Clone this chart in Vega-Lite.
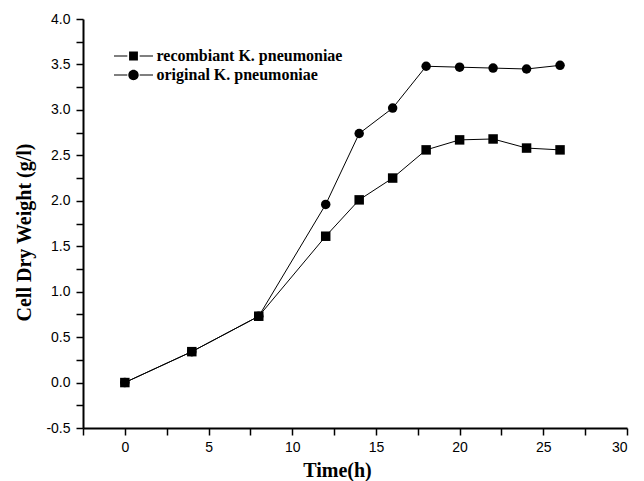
{
  "$schema": "https://vega.github.io/schema/vega-lite/v6.json",
  "width": 544,
  "height": 409,
  "autosize": {"type": "none"},
  "padding": {"left": 83, "top": 19, "right": 17, "bottom": 53},
  "background": "white",
  "config": {"view": {"stroke": null}},
  "data": {
    "values": [
      {"time": 0, "cdw": 0.0, "series": "recombiant"},
      {"time": 4, "cdw": 0.34, "series": "recombiant"},
      {"time": 8, "cdw": 0.73, "series": "recombiant"},
      {"time": 12, "cdw": 1.61, "series": "recombiant"},
      {"time": 14, "cdw": 2.01, "series": "recombiant"},
      {"time": 16, "cdw": 2.25, "series": "recombiant"},
      {"time": 18, "cdw": 2.56, "series": "recombiant"},
      {"time": 20, "cdw": 2.67, "series": "recombiant"},
      {"time": 22, "cdw": 2.68, "series": "recombiant"},
      {"time": 24, "cdw": 2.58, "series": "recombiant"},
      {"time": 26, "cdw": 2.56, "series": "recombiant"},
      {"time": 0, "cdw": 0.0, "series": "original"},
      {"time": 4, "cdw": 0.34, "series": "original"},
      {"time": 8, "cdw": 0.73, "series": "original"},
      {"time": 12, "cdw": 1.96, "series": "original"},
      {"time": 14, "cdw": 2.74, "series": "original"},
      {"time": 16, "cdw": 3.02, "series": "original"},
      {"time": 18, "cdw": 3.48, "series": "original"},
      {"time": 20, "cdw": 3.47, "series": "original"},
      {"time": 22, "cdw": 3.46, "series": "original"},
      {"time": 24, "cdw": 3.45, "series": "original"},
      {"time": 26, "cdw": 3.49, "series": "original"}
    ]
  },
  "encoding": {
    "x": {
      "field": "time", "type": "quantitative",
      "scale": {"domain": [-2.5, 30], "nice": false, "zero": false},
      "axis": {
        "title": "Time(h)",
        "values": [-2.5, 0, 2.5, 5, 7.5, 10, 12.5, 15, 17.5, 20, 22.5, 25, 27.5, 30],
        "labelExpr": "datum.value % 5 === 0 ? format(datum.value, 'd') : ''",
        "grid": false,
        "domainColor": "black", "domainWidth": 2,
        "tickColor": "black", "tickWidth": 1.5, "tickSize": 7,
        "labelFont": "Liberation Sans", "labelFontSize": 14, "labelColor": "black", "labelPadding": 5,
        "titleFont": "Liberation Serif", "titleFontWeight": "bold", "titleFontSize": 20, "titleColor": "black",
        "titleX": 254, "titleY": 48, "titleBaseline": "alphabetic", "titleAlign": "center",
        "encoding": {"ticks": {"y2": {"signal": "datum.value % 5 === 0 ? 7 : 4"}}}
      }
    },
    "y": {
      "field": "cdw", "type": "quantitative",
      "scale": {"domain": [-0.5, 4.0], "nice": false, "zero": false},
      "axis": {
        "title": "Cell Dry Weight (g/l)",
        "values": [-0.5, -0.25, 0, 0.25, 0.5, 0.75, 1, 1.25, 1.5, 1.75, 2, 2.25, 2.5, 2.75, 3, 3.25, 3.5, 3.75, 4],
        "labelExpr": "abs(datum.value * 2 - round(datum.value * 2)) < 0.01 ? replace(format(datum.value, '.1f'), '\u2212', '-') : ''",
        "grid": false,
        "domainColor": "black", "domainWidth": 2,
        "tickColor": "black", "tickWidth": 1.5, "tickSize": 7,
        "labelFont": "Liberation Sans", "labelFontSize": 14, "labelColor": "black", "labelPadding": 6,
        "titleFont": "Liberation Serif", "titleFontWeight": "bold", "titleFontSize": 20, "titleColor": "black",
        "titleX": -53, "titleY": 213, "titleBaseline": "alphabetic", "titleAlign": "center", "titleAngle": 270,
        "encoding": {"ticks": {"x2": {"signal": "abs(datum.value * 2 - round(datum.value * 2)) < 0.01 ? -7 : -4"}}}
      }
    }
  },
  "layer": [
    {
      "mark": {"type": "line", "color": "black", "strokeWidth": 1},
      "encoding": {"detail": {"field": "series"}}
    },
    {
      "mark": {"type": "point", "filled": true, "color": "black", "opacity": 1, "size": 90},
      "encoding": {
        "shape": {
          "field": "series", "type": "nominal",
          "scale": {"domain": ["recombiant", "original"], "range": ["square", "circle"]},
          "legend": null
        }
      }
    },
    {
      "transform": [{"filter": "datum.time < -100"}],
      "mark": {"type": "point", "filled": true, "color": "black", "opacity": 1, "size": 169},
      "encoding": {
        "shape": {
          "field": "series", "type": "nominal",
          "scale": {"domain": ["recombiant", "original"], "range": ["M-3,-0.08H-0.95V0.08H-3Z M0.95,-0.08H3V0.08H0.95Z M-0.68,-0.68H0.68V0.68H-0.68Z", "M-3,-0.08H-0.95V0.08H-3Z M0.95,-0.08H3V0.08H0.95Z M-0.8,0A0.8,0.8 0 1,0 0.8,0A0.8,0.8 0 1,0 -0.8,0Z"]},
          "legend": {
            "title": null,
            "orient": "none",
            "legendX": 42.5,
            "legendY": 29,
            "padding": 0,
            "symbolSize": 169,
            "symbolFillColor": "black",
            "symbolOpacity": 1,
            "rowPadding": 2,
            "labelOffset": 15,
            "labelFont": "Liberation Serif",
            "labelFontWeight": "bold",
            "labelFontSize": 16,
            "labelColor": "black",
            "labelLimit": 400,
            "labelExpr": "datum.value + ' K. pneumoniae'"
          }
        }
      }
    }
  ],
  "resolve": {"scale": {"shape": "independent"}, "legend": {"shape": "independent"}}
}
